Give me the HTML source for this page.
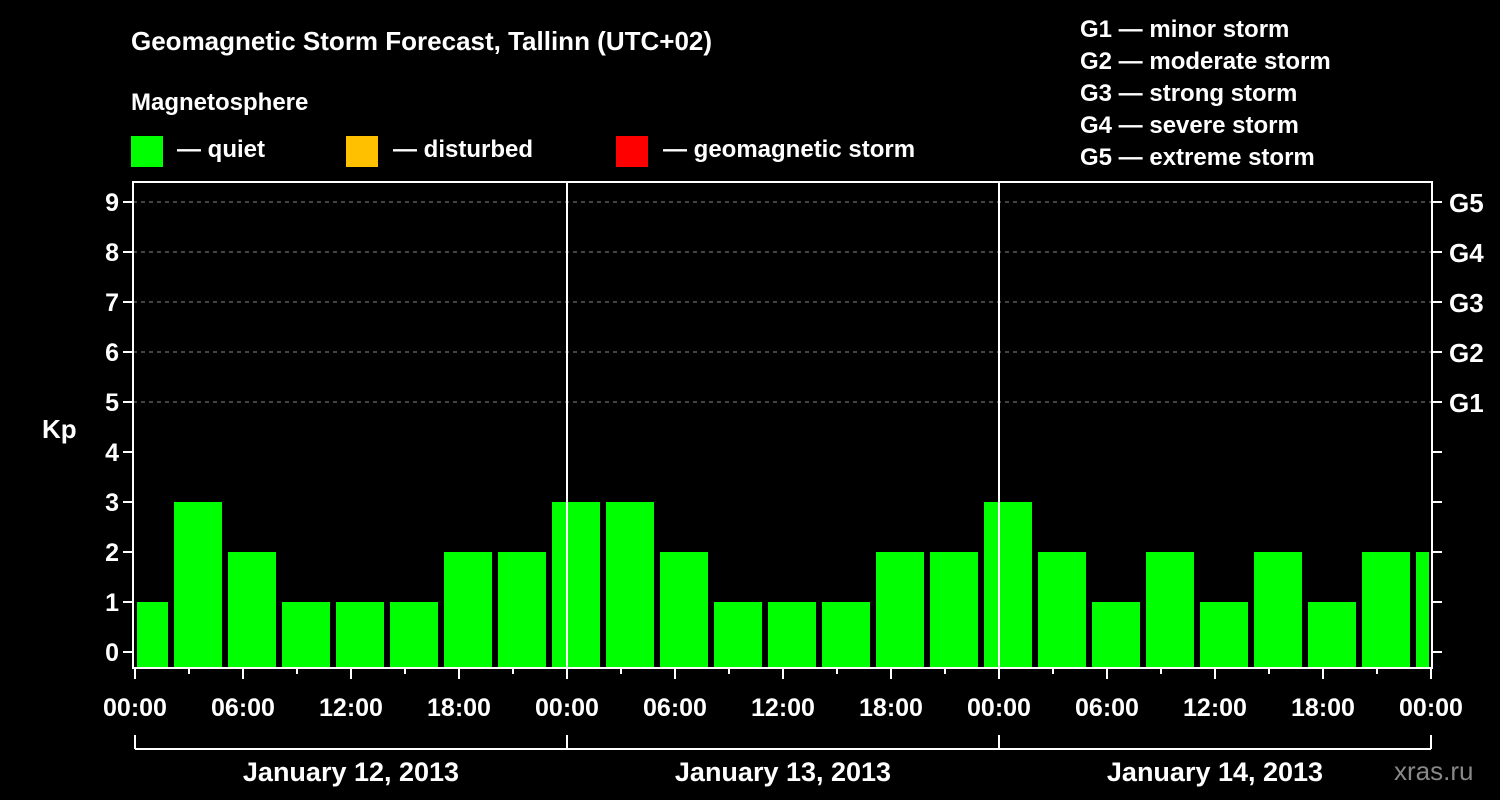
<!DOCTYPE html>
<html><head><meta charset="utf-8"><style>
body{margin:0;background:#000;}
svg{display:block;font-family:"Liberation Sans",Arial,sans-serif;font-weight:bold;}
</style></head><body>
<svg id="chart" width="1500" height="800" viewBox="0 0 1500 800" xmlns="http://www.w3.org/2000/svg">
<rect width="1500" height="800" fill="#000"/>
<text x="131" y="50" fill="#fff" font-size="26">Geomagnetic Storm Forecast, Tallinn (UTC+02)</text>
<text x="131" y="110" fill="#fff" font-size="24">Magnetosphere</text>
<g>
<rect x="131" y="136" width="32" height="31" fill="#00ff00"/>
<text x="177" y="157" fill="#fff" font-size="24">— quiet</text>
<rect x="346" y="136" width="32" height="31" fill="#ffc000"/>
<text x="393" y="157" fill="#fff" font-size="24">— disturbed</text>
<rect x="616" y="136" width="32" height="31" fill="#ff0000"/>
<text x="663" y="157" fill="#fff" font-size="24">— geomagnetic storm</text>
</g>
<g fill="#fff" font-size="24">
<text x="1080" y="37">G1 — minor storm</text>
<text x="1080" y="69">G2 — moderate storm</text>
<text x="1080" y="101">G3 — strong storm</text>
<text x="1080" y="133">G4 — severe storm</text>
<text x="1080" y="165">G5 — extreme storm</text>
</g>
<text x="42" y="438" fill="#fff" font-size="26">Kp</text>
<text x="1394" y="780" fill="#888" font-size="26" font-weight="normal">xras.ru</text>
<g id="plot"></g>
</svg>
<script>
const kpValues=[1,3,2,1,1,1,2,2,3,3,2,1,1,1,2,2,3,2,1,2,1,2,1,2,2];
const barStartHours=[-1,2,5,8,11,14,17,20,23,26,29,32,35,38,41,44,47,50,53,56,59,62,65,68,71];
const yTicks=[0,1,2,3,4,5,6,7,8,9];
const gLabels=["G1","G2","G3","G4","G5"];
const gLevels=[5,6,7,8,9];
const xTickLabels=["00:00","06:00","12:00","18:00","00:00","06:00","12:00","18:00","00:00","06:00","12:00","18:00","00:00"];
const dayLabels=["January 12, 2013","January 13, 2013","January 14, 2013"];

const NS="http://www.w3.org/2000/svg";
const L=133,R=1432,T=182,B=668,X0=135,HPX=18;
const x=h=>X0+h*HPX;
const y=v=>652-v*50;
const g=document.getElementById('plot');
function mk(tag,attrs,text){const e=document.createElementNS(NS,tag);for(const k in attrs)e.setAttribute(k,attrs[k]);if(text!==undefined)e.textContent=text;g.appendChild(e);return e;}

// gridlines
gLevels.forEach(v=>{
 const e=mk('line',{x1:L,x2:R,y1:y(v),y2:y(v),stroke:'#888','stroke-width':1,'stroke-dasharray':'4,4'});
 
 
});
// bars
kpValues.forEach((v,i)=>{
 let s=x(barStartHours[i])+3,e2=x(barStartHours[i]+3)-3;
 s=Math.max(s,X0+2);e2=Math.min(e2,R-3);
 const r=mk('rect',{x:s,y:y(v),width:e2-s,height:B-1-y(v),fill:'#00ff00'});
 
 
});
// day separators
[24,48].forEach(h=>{
 const e=mk('line',{x1:x(h),x2:x(h),y1:T,y2:B,stroke:'#fff','stroke-width':2});
 
 
});
// frame
const f=mk('rect',{x:L,y:T,width:R-L,height:B-T,fill:'none',stroke:'#fff','stroke-width':2});


// y ticks
yTicks.forEach(v=>{
 const t1=mk('line',{x1:L-10,x2:L,y1:y(v),y2:y(v),stroke:'#fff','stroke-width':2});
 
 
 const t2=mk('line',{x1:R,x2:R+10,y1:y(v),y2:y(v),stroke:'#fff','stroke-width':2});
 
 
 const lb=mk('text',{x:L-14,y:y(v)+9,fill:'#fff','font-size':25,'text-anchor':'end'},String(v));
 
 
});
gLevels.forEach((v,i)=>{
 const lb=mk('text',{x:R+17,y:y(v)+10,fill:'#fff','font-size':26},gLabels[i]);
 
 
});
// x ticks
for(let h=0;h<=72;h+=3){
 const len=(h%6===0)?11:6;
 const t=mk('line',{x1:x(h),x2:x(h),y1:B,y2:B+len,stroke:'#fff','stroke-width':2});
 
 
}
xTickLabels.forEach((s,i)=>{
 const lb=mk('text',{x:x(i*6),y:716,fill:'#fff','font-size':25,'text-anchor':'middle'},s);
 
 
});
// day brackets
const bl=mk('line',{x1:x(0),x2:x(72),y1:749,y2:749,stroke:'#fff','stroke-width':2});


[0,24,48,72].forEach(h=>{
 const t=mk('line',{x1:x(h),x2:x(h),y1:735,y2:749,stroke:'#fff','stroke-width':2});
 
 
});
dayLabels.forEach((s,i)=>{
 const lb=mk('text',{x:x(i*24+12),y:781,fill:'#fff','font-size':27,'text-anchor':'middle'},s);
 
 
});
</script>
</body></html>
